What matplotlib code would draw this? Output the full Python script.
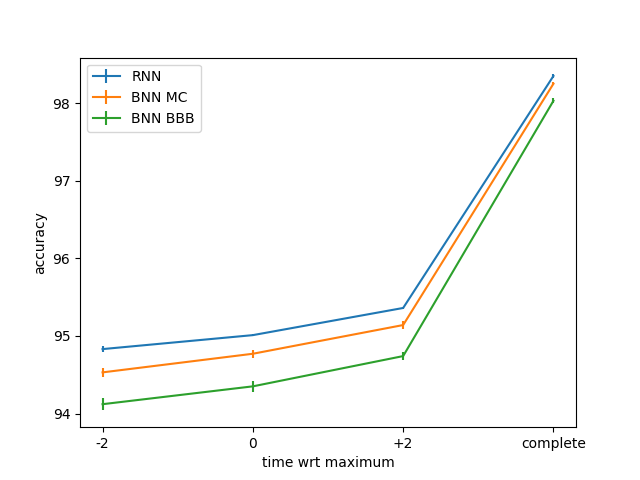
import matplotlib
matplotlib.use("Agg")
import matplotlib.pyplot as plt

categories = ["-2", "0", "+2", "complete"]
rnn = [94.83, 95.01, 95.36, 98.35]
rnn_err = [0.04, 0.01, 0.01, 0.02]
bnn_mc = [94.53, 94.77, 95.14, 98.25]
bnn_mc_err = [0.06, 0.05, 0.05, 0.02]
bnn_bbb = [94.12, 94.35, 94.74, 98.03]
bnn_bbb_err = [0.08, 0.07, 0.05, 0.03]

fig, ax = plt.subplots(figsize=(6.4, 4.8), dpi=100)
x = list(range(len(categories)))
ax.errorbar(x, rnn, yerr=rnn_err, label="RNN")
ax.errorbar(x, bnn_mc, yerr=bnn_mc_err, label="BNN MC")
ax.errorbar(x, bnn_bbb, yerr=bnn_bbb_err, label="BNN BBB")
ax.set_xticks(x)
ax.set_xticklabels(categories)
ax.set_xlabel("time wrt maximum")
ax.set_ylabel("accuracy")
ax.legend(loc="upper left")
fig.savefig("out.png")
